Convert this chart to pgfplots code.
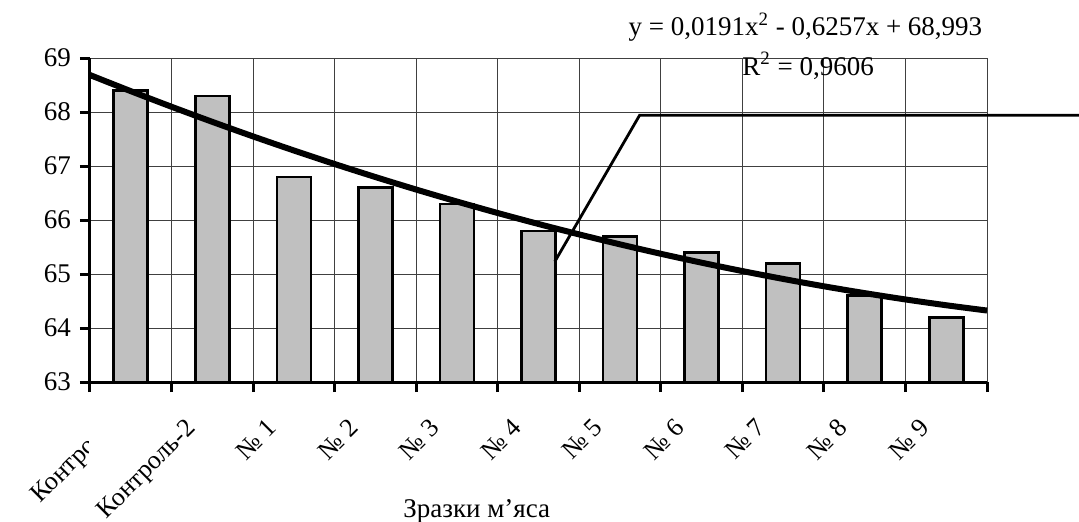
\documentclass[border=0pt]{standalone}
\usepackage{fontspec}
\setmainfont{Liberation Serif}
\usepackage{pgfplots}
\pgfplotsset{compat=1.18}
\definecolor{barfill}{RGB}{192,192,192}
\newcommand{\lf}{\fontsize{13.5}{16}\selectfont}
\newcommand{\xf}{\fontsize{13}{15.5}\selectfont}
\begin{document}
\begin{tikzpicture}
\begin{axis}[
  name=ax, at={(0,0)}, anchor=south west,
  scale only axis, width=448.5pt, height=162pt,
  xmin=0.5, xmax=11.5, ymin=63, ymax=69,
  axis x line*=bottom, axis y line*=left,
  axis line style={-, line width=1.5pt},
  ytick={63,64,...,69},
  xtick={0.5,1.5,...,11.5},
  xticklabels={},
  extra x ticks={1,...,11},
  extra x tick labels={,Контроль-2,№ 1,№ 2,№ 3,№ 4,№ 5,№ 6,№ 7,№ 8,№ 9},
  extra x tick style={major tick length=0pt, grid=none,
     xticklabel style={font=\xf, xshift=-14pt, yshift=-17.5pt, rotate=45, anchor=north east, inner sep=0pt}},
  tick align=outside,
  major tick length=5pt,
  tick style={line width=1.5pt, black},
  xmajorgrids=true, ymajorgrids=true,
  major grid style={line width=0.5pt, black!75},
  /pgf/number format/assume math mode=true,
  yticklabel style={font=\lf, xshift=-1pt},
  clip=false,
]
\addplot[ybar, bar width=17pt, fill=barfill, draw=black, line width=1.3pt] coordinates {
  (1,68.4) (2,68.3) (3,66.8) (4,66.6) (5,66.3) (6,65.8) (7,65.7) (8,65.4) (9,65.2) (10,64.6) (11,64.2)
};
\addplot[black, line width=3pt, smooth, no marks] coordinates {
  (0.5,68.6849) (1,68.3864) (1.5,68.0974) (2,67.8180) (2.5,67.5481) (3,67.2878)
  (3.5,67.0370) (4,66.7958) (4.5,66.5641) (5,66.3420) (5.5,66.1294) (6,65.9264)
  (6.5,65.7329) (7,65.5490) (7.5,65.3746) (8,65.2098) (8.5,65.0545) (9,64.9088)
  (9.5,64.7726) (10,64.6460) (10.5,64.5289) (11,64.4214) (11.5,64.3235)
};
\draw[line width=1.4pt] (axis cs:6.20,65.23) -- (axis cs:7.24,67.94) -- (axis cs:14,67.94);
\node[anchor=base west, font=\lf, inner sep=0pt] at (axis cs:7.10,69.41) {y = 0,0191x\textsuperscript{2} - 0,6257x + 68,993};
\node[anchor=base west, font=\lf, inner sep=0pt] at (axis cs:8.495,68.685) {R\textsuperscript{2} = 0,9606};
\node[anchor=base west, font=\lf, inner sep=0pt] at (axis cs:4.338,60.5) {Зразки м’яса};
\end{axis}
\begin{scope}
\clip (-60pt,-100pt) rectangle (-1pt,0pt);
\node[font=\xf, rotate=45, anchor=north east, inner sep=0pt] at (20.4pt-14pt,-17.5pt) {Контроль};
\end{scope}
\pgfresetboundingbox
\useasboundingbox (-45pt,-69.5pt) rectangle (494.5pt,191pt);
\end{tikzpicture}
\end{document}
